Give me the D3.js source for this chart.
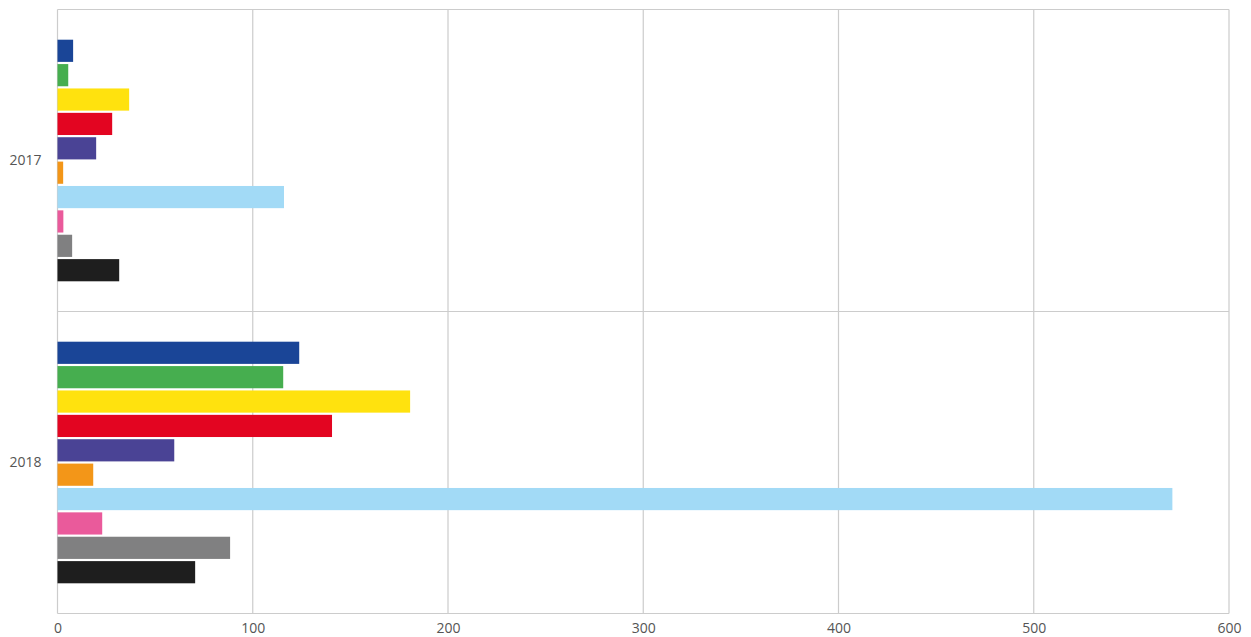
<!DOCTYPE html>
<html>
<head>
<meta charset="utf-8">
<script src="https://cdn.jsdelivr.net/npm/d3@7"></script>
<style>
  body { margin: 0; background: #fff; }
  text { font-family: "Open Sans", "Noto Sans", sans-serif; fill: #555; }
</style>
</head>
<body>
<svg id="chart" width="1251" height="637"></svg>
<script>
// categories and series
var years = ['2017', '2018'];
var seriesColors = ['#1a4597', '#46ae4f', '#ffe20e', '#e30521', '#4a4395',
                    '#f39618', '#a2daf6', '#ea5a9b', '#808081', '#1e1e1e'];
var values2017 = [8.0, 5.5, 36.7, 28.0, 19.8, 2.9, 116.0, 3.0, 7.5, 31.6];
var values2018 = [123.8, 115.6, 180.6, 140.6, 59.8, 18.3, 571.0, 22.9, 88.4, 70.5];
var xTicks = [0, 100, 200, 300, 400, 500, 600];

var svg = d3.select('#chart');
var margin = {top: 9.5, right: 22, bottom: 23.5, left: 57.5};
var width = 1251 - margin.left - margin.right;
var height = 637 - margin.top - margin.bottom;

var g = svg.append('g')
  .attr('transform', 'translate(' + margin.left + ',' + margin.top + ')');

var x = d3.scaleLinear().domain([0, 600]).range([0, width]);
var y = d3.scaleBand().domain(years).range([0, height]).paddingInner(0).paddingOuter(0);
var ySeries = d3.scaleBand()
  .domain(d3.range(seriesColors.length))
  .range([y.bandwidth() * 0.1, y.bandwidth() * 0.9])
  .paddingInner(0.09);

// gridlines
g.append('g').selectAll('line')
  .data(xTicks)
  .enter().append('line')
  .attr('x1', function(d) { return x(d); })
  .attr('x2', function(d) { return x(d); })
  .attr('y1', 0).attr('y2', height)
  .attr('stroke', '#cccccc').attr('stroke-width', 1.2);

// category separators and frame
g.append('g').selectAll('line')
  .data([0, height / 2, height])
  .enter().append('line')
  .attr('x1', 0).attr('x2', width)
  .attr('y1', function(d) { return d; })
  .attr('y2', function(d) { return d; })
  .attr('stroke', '#cccccc').attr('stroke-width', 1.2);

var data = [values2017, values2018];
var groups = g.selectAll('g.year')
  .data(years)
  .enter().append('g')
  .attr('class', 'year')
  .attr('transform', function(d) { return 'translate(0,' + y(d) + ')'; });

groups.selectAll('rect')
  .data(function(d, i) { return data[i]; })
  .enter().append('rect')
  .attr('x', x(0))
  .attr('y', function(d, i) { return ySeries(i); })
  .attr('width', function(d) { return x(d) - x(0); })
  .attr('height', ySeries.bandwidth())
  .attr('fill', function(d, i) { return seriesColors[i]; });

// axes labels
var xAxis = d3.axisBottom(x).tickValues(xTicks).tickSize(0).tickPadding(10);
g.append('g')
  .attr('transform', 'translate(0,' + height + ')')
  .call(xAxis)
  .call(function(a) { a.select('.domain').remove(); })
  .selectAll('text')
  .style('font-size', '14px')
  .attr('fill', '#555');

var yAxis = d3.axisLeft(y).tickSize(0).tickPadding(16);
g.append('g')
  .call(yAxis)
  .call(function(a) { a.select('.domain').remove(); })
  .selectAll('text')
  .style('font-size', '14px')
  .attr('fill', '#555');
</script>
</body>
</html>
